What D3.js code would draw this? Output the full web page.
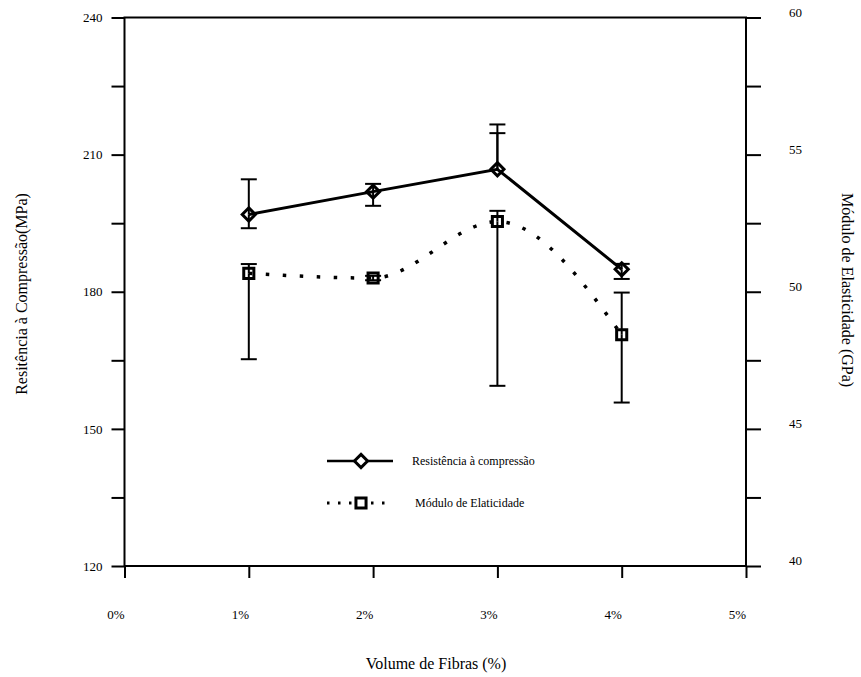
<!DOCTYPE html>
<html>
<head>
<meta charset="utf-8">
<script src="https://cdn.jsdelivr.net/npm/d3@7"></script>
<style>
  body { margin: 0; background: #fff; }
</style>
</head>
<body>
<div id="chart"></div>
<script>
// data
var fibras = [1, 2, 3, 4];
var xTicks = [0, 1, 2, 3, 4, 5];
var resistencia = [196.9, 201.9, 206.8, 184.9];
var resHigh = [204.6, 203.6, 216.6, 186.1];
var resLow = [193.9, 198.8, 214.7, 182.8];
var modulo = [50.67, 50.5, 52.56, 48.43];
var modHigh = [51.01, 50.58, 52.95, 49.97];
var modLow = [47.54, 50.42, 46.57, 45.96];
var leftTicks = [120, 135, 150, 165, 180, 195, 210, 225, 240];
var rightTicks = [40, 42.5, 45, 47.5, 50, 52.5, 55, 57.5, 60];

var serif = "'Liberation Serif', 'Times New Roman', Times, 'DejaVu Serif', serif";
var width = 861, height = 677;
var plotL = 124.5, plotR = 746, plotT = 17.5, plotB = 566;

var svg = d3.select("#chart").append("svg")
  .attr("width", width)
  .attr("height", height)
  .style("font-family", serif);

var x = d3.scaleLinear().domain([0, 5]).range([plotL, plotR]);
var yL = d3.scaleLinear().domain([120, 240]).range([plotB, plotT]);
var yR = d3.scaleLinear().domain([40, 60]).range([plotB, plotT]);

/* frame */
svg.append("rect")
  .attr("x", plotL).attr("y", plotT)
  .attr("width", plotR - plotL).attr("height", plotB - plotT)
  .attr("fill", "none").attr("stroke", "#000").attr("stroke-width", 2);

/* axes */
var axL = svg.append("g")
  .attr("transform", `translate(${plotL},0)`)
  .call(d3.axisLeft(yL).tickValues(leftTicks).tickSize(13).tickPadding(9)
    .tickFormat(d => d % 30 === 0 ? d : ""));

var axR = svg.append("g")
  .attr("transform", `translate(${plotR},0)`)
  .call(d3.axisRight(yR).tickValues(rightTicks).tickSize(15).tickPadding(28)
    .tickFormat(d => d % 5 === 0 ? d : ""));
axR.selectAll("text").attr("dy", "-0.1em");

var axB = svg.append("g")
  .attr("transform", `translate(0,${plotB})`)
  .call(d3.axisBottom(x).tickValues(xTicks).tickSize(12).tickPadding(32)
    .tickFormat(d => d + "%"));
axB.selectAll("text").attr("dx", "-9");

[axL, axR, axB].forEach(function (a) {
  a.attr("font-family", null).attr("font-size", null);
  a.select(".domain").remove();
  a.selectAll("line").attr("stroke", "#000").attr("stroke-width", 2);
  a.selectAll("text")
    .style("font-family", serif)
    .style("font-size", "13px")
    .attr("fill", "#000");
});

/* axis titles */
svg.append("text")
  .attr("transform", "translate(27,294) rotate(-90)")
  .attr("text-anchor", "middle")
  .style("font-family", serif)
  .style("font-size", "16px")
  .text("Resitência à Compressão(MPa)");

svg.append("text")
  .attr("transform", "translate(842,290) rotate(90)")
  .attr("text-anchor", "middle")
  .style("font-family", serif)
  .style("font-size", "16px")
  .text("Módulo de Elasticidade (GPa)");

svg.append("text")
  .attr("x", 436).attr("y", 669)
  .attr("text-anchor", "middle")
  .style("font-family", serif)
  .style("font-size", "16px")
  .text("Volume de Fibras (%)");

/* error bars */
function errorBars(vals, hi, lo, scale) {
  var g = svg.append("g").attr("stroke", "#000").attr("stroke-width", 2);
  fibras.forEach(function (f, i) {
    [hi[i], lo[i]].forEach(function (e) {
      g.append("line")
        .attr("x1", x(f)).attr("x2", x(f))
        .attr("y1", scale(vals[i])).attr("y2", scale(e));
      g.append("line")
        .attr("x1", x(f) - 8).attr("x2", x(f) + 8)
        .attr("y1", scale(e)).attr("y2", scale(e));
    });
  });
}
errorBars(resistencia, resHigh, resLow, yL);
errorBars(modulo, modHigh, modLow, yR);

/* lines */
var lineRes = d3.line()
  .x((d, i) => x(fibras[i]))
  .y(d => yL(d));
var lineMod = d3.line()
  .x((d, i) => x(fibras[i]))
  .y(d => yR(d))
  .curve(d3.curveMonotoneX);

svg.append("path")
  .attr("d", lineRes(resistencia))
  .attr("fill", "none").attr("stroke", "#000").attr("stroke-width", 3);

svg.append("path")
  .attr("d", lineMod(modulo))
  .attr("fill", "none").attr("stroke", "#000").attr("stroke-width", 3.5)
  .attr("stroke-dasharray", "3.5,13.5");

/* markers */
var diamond = d3.symbol().type(d3.symbolDiamond2).size(110);
var square = d3.symbol().type(d3.symbolSquare2).size(130);

svg.append("g").selectAll("path")
  .data(resistencia).enter()
  .append("path")
  .attr("d", diamond)
  .attr("transform", (d, i) => `translate(${x(fibras[i])},${yL(d)})`)
  .attr("fill", "none").attr("stroke", "#000").attr("stroke-width", 3);

svg.append("g").selectAll("path")
  .data(modulo).enter()
  .append("path")
  .attr("d", square)
  .attr("transform", (d, i) => `translate(${x(fibras[i])},${yR(d)})`)
  .attr("fill", "none").attr("stroke", "#000").attr("stroke-width", 3);

/* legend */
var leg = svg.append("g");
leg.append("line")
  .attr("x1", 327).attr("x2", 393).attr("y1", 461).attr("y2", 461)
  .attr("stroke", "#000").attr("stroke-width", 2.5);
leg.append("path").attr("d", diamond)
  .attr("transform", "translate(361,461)")
  .attr("fill", "#fff").attr("stroke", "#000").attr("stroke-width", 3);
leg.append("text").attr("x", 412).attr("y", 465)
  .style("font-family", serif)
  .style("font-size", "12px").text("Resistência à compressão");

leg.append("line")
  .attr("x1", 327).attr("x2", 393).attr("y1", 503).attr("y2", 503)
  .attr("stroke", "#000").attr("stroke-width", 3)
  .attr("stroke-dasharray", "2.5,8.5");
leg.append("path").attr("d", square)
  .attr("transform", "translate(361,503)")
  .attr("fill", "#fff").attr("stroke", "#000").attr("stroke-width", 3);
leg.append("text").attr("x", 415).attr("y", 507)
  .style("font-family", serif)
  .style("font-size", "12px").text("Módulo de Elaticidade");
</script>
</body>
</html>
